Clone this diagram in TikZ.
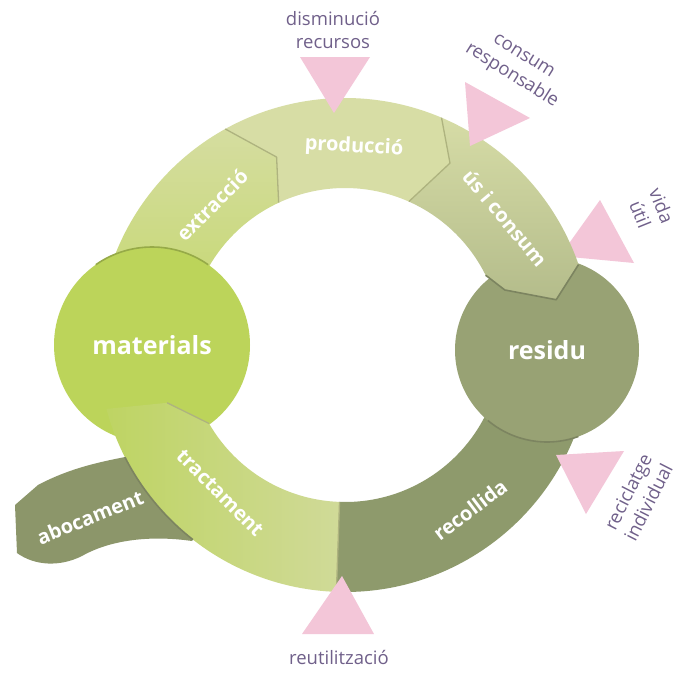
\documentclass[tikz,border=0pt]{standalone}
\usepackage{fontspec}
\setmainfont{Open Sans}
\definecolor{matc}{HTML}{BCD45A}
\definecolor{extrA}{HTML}{C6D873}
\definecolor{extrB}{HTML}{D5DDA0}
\definecolor{prodc}{HTML}{D7DDA5}
\definecolor{usA}{HTML}{D6DCA6}
\definecolor{usB}{HTML}{B4BC8B}
\definecolor{resc}{HTML}{98A274}
\definecolor{recc}{HTML}{8E9A6C}
\definecolor{abocc}{HTML}{8C966A}
\definecolor{tracA}{HTML}{BED463}
\definecolor{tracB}{HTML}{D0DA98}
\definecolor{pinkc}{HTML}{F3C6D8}
\definecolor{lblc}{HTML}{70608A}
\definecolor{seamc}{HTML}{AEB37F}
\definecolor{darkc}{HTML}{7C8460}
\begin{document}
\begin{tikzpicture}[x=1pt,y=-1pt,
  outlbl/.style={text=lblc, font=\fontsize{18.5}{23}\selectfont, align=center, inner sep=0pt},
  bandlbl/.style={text=white, font=\bfseries\fontsize{20}{22}\selectfont, inner sep=0pt},
  biglbl/.style={circle, inner sep=0pt, text=white, font=\bfseries\fontsize{25}{28}\selectfont},
  tri/.style={fill=pinkc},
  seam/.style={draw=seamc, line width=1.3pt, line join=round},
  darkedge/.style={draw=darkc, line width=1.6pt, line join=round}
]
\useasboundingbox (0,0) rectangle (677,678);
\fill[white] (0,0) rectangle (677,678);
% abocament
\fill[abocc] (15,505) -- (38,485) .. controls (70,468) and (100,462) .. (125,457) -- (165,450) -- (205,520) -- (192,541) .. controls (150,535) and (110,540) .. (82,556) .. controls (60,567) and (35,566) .. (17,553) -- cycle;
\begin{scope}[shift={(345,345)}]
% extraccio
\shade[bottom color=extrA, top color=extrB] (-165:247) arc[start angle=-165,end angle=-119,radius=247] -- (-110:200) -- (-115:157) arc[start angle=-115,end angle=-165,radius=157] -- cycle;
% recollida
\fill[recc] (92:247) arc[start angle=92,end angle=8,radius=247] -- (8:157) arc[start angle=8,end angle=92,radius=157] -- cycle;
\end{scope}
% vida util triangle
\fill[tri] (600,200) -- (634,263) -- (560,256) -- cycle;
\node[biglbl, fill=resc, minimum size=184pt] (residu) at (547,350) {residu};
\node[biglbl, fill=matc, minimum size=196pt] (materials) at (152,345) {materials};
\draw[darkedge, draw=matc!80!black] (152,345) ++(-125:98) arc[start angle=-125,end angle=-55,radius=98];
\draw[darkedge] (547,350) ++(70:92) arc[start angle=70,end angle=130,radius=92];
\begin{scope}[shift={(345,345)}]
% tractament
\shade[left color=tracA, right color=tracB] (165:247) arc[start angle=165,end angle=92,radius=247] -- (92:157) arc[start angle=92,end angle=150,radius=157] -- (162:187) -- cycle;
% produccio
\fill[prodc] (-115:157) -- (-110:200) -- (-119:247) arc[start angle=-119,end angle=-67,radius=247] -- (-60:210) -- (-66:157) arc[start angle=-66,end angle=-115,radius=157] -- cycle;
% us i consum
\shade[top color=usA, bottom color=usB] (-66:157) -- (-60:210) -- (-67:247) arc[start angle=-67,end angle=-19,radius=247] -- (-12.1:216) -- (-19:169) -- (-26.4:157) arc[start angle=-26.4,end angle=-66,radius=157] -- cycle;
\draw[seam] (-119:247) -- (-110:200) -- (-115:157);
\draw[seam] (-67:247) -- (-60:210) -- (-66:157);
\draw[darkedge] (-19:247) -- (-12.1:216) -- (-19:169) -- (-26.4:157);
\draw[seam] (162:187) -- (150:157);
\draw[seam] (92:247) -- (92:157);
\draw[darkedge] (153:247) arc[start angle=153,end angle=128,radius=247];
\end{scope}
% triangles
\fill[tri] (300,57) -- (370,57) -- (334,113) -- cycle;
\fill[tri] (465,82) -- (530,118) -- (470,146) -- cycle;
\fill[tri] (556,455) -- (624,451) -- (586,514) -- cycle;
\fill[tri] (342,576) -- (302,634) -- (374,634) -- cycle;
% labels
\node[outlbl] (dism) at (333,30) {disminució\\recursos};
\node[outlbl, rotate=-32] (cons) at (517,67) {consum\\responsable};
\node[outlbl, rotate=-68] (vida) at (651,210) {vida\\útil};
\node[outlbl, rotate=63] (recic) at (638,497) {reciclatge\\individual};
\node[outlbl] (reut) at (339,657) {reutilització};
\node[bandlbl, rotate=45] (extr) at (212,205) {extracció};
\node[bandlbl, rotate=-3] (prod) at (354,147) {producció};
\node[bandlbl, rotate=-50] (us) at (505,218) {ús i consum};
\node[bandlbl, rotate=-45] (trac) at (220,493) {tractament};
\node[bandlbl, rotate=37] (recol) at (470,510) {recollida};
\node[bandlbl, rotate=22] (aboc) at (90,517) {abocament};
\end{tikzpicture}
\end{document}
